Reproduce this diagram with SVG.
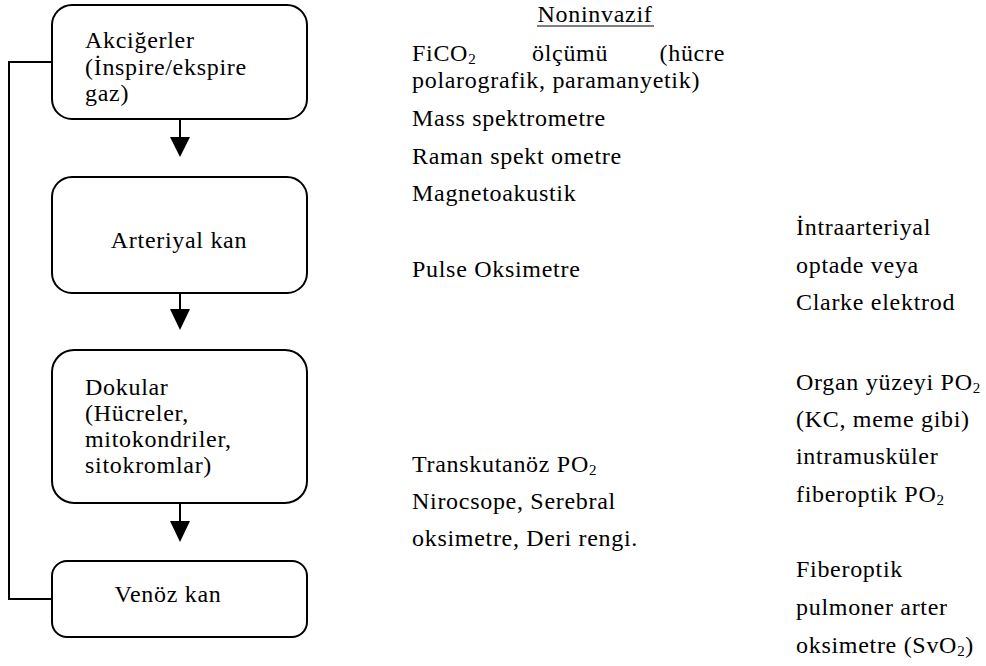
<svg xmlns="http://www.w3.org/2000/svg" width="986" height="666" viewBox="0 0 986 666">
<style>
.box{fill:#fff;stroke:#000;stroke-width:2}
.t{font-family:"Liberation Serif","Times New Roman",serif;font-size:24px;letter-spacing:0.7px;fill:#000}
.sub{font-size:15px}
.ln{fill:none;stroke:#000;stroke-width:2}
</style>
<rect width="986" height="666" fill="#fff"/>
<g id="connectors">
<path class="ln" d="M52,62 H9 V599 H52"/>
<line class="ln" x1="180" y1="120" x2="180" y2="138"/>
<path d="M170,137 L190,137 L180,157 z"/>
<line class="ln" x1="180" y1="293" x2="180" y2="310"/>
<path d="M170,309 L190,309 L180,330 z"/>
<line class="ln" x1="180" y1="503" x2="180" y2="522"/>
<path d="M170,521 L190,521 L180,542 z"/>
</g>
<g id="akcigerler">
<rect class="box" x="52" y="5" width="255" height="114" rx="20"/>
<text class="t" x="85" y="48">Akciğerler</text>
<text class="t" x="85" y="75">(İnspire/ekspire</text>
<text class="t" x="85" y="101">gaz)</text>
</g>
<g id="arteriyal">
<rect class="box" x="52" y="177" width="255" height="116" rx="20"/>
<text class="t" x="179" y="248" text-anchor="middle">Arteriyal kan</text>
</g>
<g id="dokular">
<rect class="box" x="52" y="350" width="255" height="153" rx="22"/>
<text class="t" x="85" y="395">Dokular</text>
<text class="t" x="85" y="421">(Hücreler,</text>
<text class="t" x="85" y="447">mitokondriler,</text>
<text class="t" x="85" y="473">sitokromlar)</text>
</g>
<g id="venoz">
<rect class="box" x="52" y="561" width="255" height="76" rx="15"/>
<text class="t" x="168" y="602" text-anchor="middle">Venöz kan</text>
</g>
<g id="noninvazif">
<text class="t" x="595" y="22" text-anchor="middle">Noninvazif</text>
<line x1="537" y1="26" x2="654" y2="26" stroke="#000" stroke-width="1.2"/>
<text class="t" x="412" y="61">FiCO<tspan class="sub" dy="3">2</tspan></text>
<text class="t" x="532" y="61">ölçümü</text>
<text class="t" x="725" y="61" text-anchor="end">(hücre</text>
<text class="t" x="412" y="88">polarografik, paramanyetik)</text>
<text class="t" x="412" y="126">Mass spektrometre</text>
<text class="t" x="412" y="164">Raman spekt ometre</text>
<text class="t" x="412" y="201">Magnetoakustik</text>
<text class="t" x="412" y="277">Pulse Oksimetre</text>
<text class="t" x="412" y="472">Transkutanöz PO<tspan class="sub" dy="3">2</tspan></text>
<text class="t" x="412" y="509">Nirocsope, Serebral</text>
<text class="t" x="412" y="546">oksimetre, Deri rengi.</text>
</g>
<g id="invazif">
<text class="t" x="796" y="235">İntraarteriyal</text>
<text class="t" x="796" y="273">optade veya</text>
<text class="t" x="796" y="310">Clarke elektrod</text>
<text class="t" x="796" y="390">Organ yüzeyi PO<tspan class="sub" dy="3">2</tspan></text>
<text class="t" x="796" y="427">(KC, meme gibi)</text>
<text class="t" x="796" y="464">intramusküler</text>
<text class="t" x="796" y="502">fiberoptik PO<tspan class="sub" dy="3">2</tspan></text>
<text class="t" x="796" y="577">Fiberoptik</text>
<text class="t" x="796" y="615">pulmoner arter</text>
<text class="t" x="796" y="653">oksimetre (SvO<tspan class="sub" dy="3">2</tspan><tspan dy="-3">)</tspan></text>
</g>
</svg>
